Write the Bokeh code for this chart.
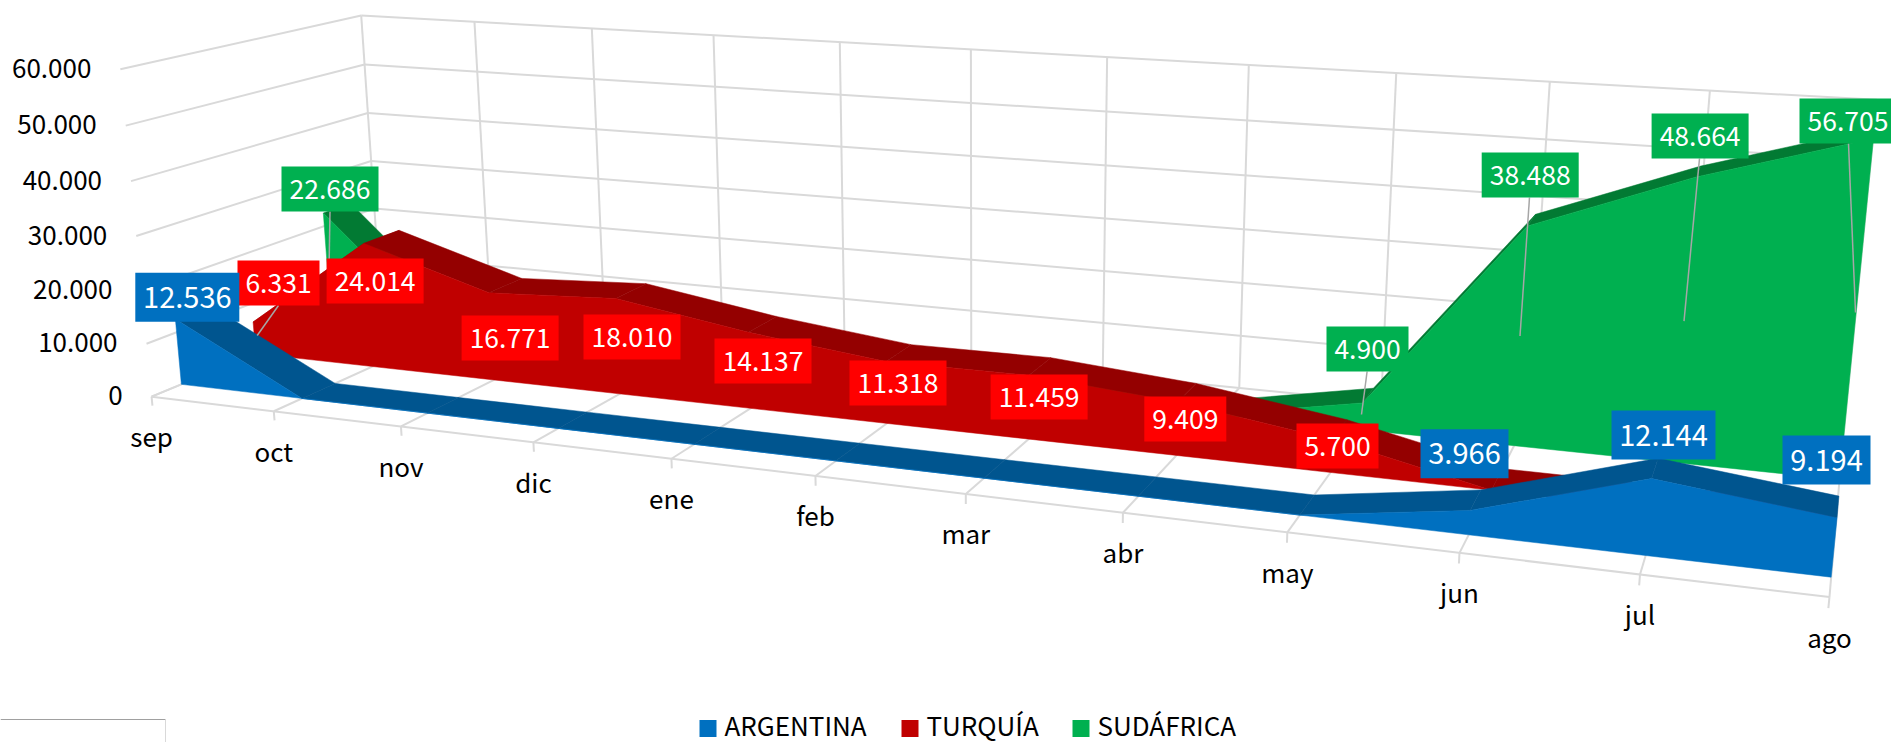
import numpy as np
from bokeh.plotting import figure
from bokeh.embed import file_html
from bokeh.resources import INLINE
from bokeh.core.properties import value

# ---------- data ----------
months = ["sep", "oct", "nov", "dic", "ene", "feb", "mar", "abr", "may", "jun", "jul", "ago"]
argentina = [12536, 0, 0, 0, 0, 0, 0, 0, 0, 3966, 12144, 9194]
turquia = [6331, 24014, 16771, 18010, 14137, 11318, 11459, 9409, 5700, 0, 0, 0]
sudafrica = [22686, 0, 0, 0, 0, 0, 0, 0, 4900, 38488, 48664, 56705]
y_ticks = [0, 10000, 20000, 30000, 40000, 50000, 60000]
legend_names = ["ARGENTINA", "TURQUÍA", "SUDÁFRICA"]

# ---------- styles / layout ----------
FONT = "Noto Sans CJK JP"
GRID = "#D9D9D9"
BLUE, BLUE_D = "#0070C0", "#00558F"
RED, RED_D = "#C00000", "#940000"
LRED = "#FF0000"
GREEN, GREEN_D = "#00B050", "#027A33"
LEADER = "#A6A6A6"

# camera calibration: (month index, depth 0..1, value) -> reference pixel
calib = [
    (0, 0, 0, 152, 395), (11, 0, 0, 1829.4, 597.3), (0, 0, 60000, 119.6, 69),
    (0, 1, 60000, 360.7, 14), (0, 1, 0, 380, 303), (11, 1, 60000, 1876, 100.5),
    (11, 1, 0, 1842, 446), (5, 0, 0, 813.8, 476), (5, 1, 60000, 971, 49),
    (5, 1, 0, 970.6, 360.8),
]


def fit_camera(points):
    rows = []
    for m, d, v, px, py in points:
        w = [m / 11, d, v / 60000, 1]
        rows.append(w + [0, 0, 0, 0] + [-px * c for c in w])
        rows.append([0, 0, 0, 0] + w + [-py * c for c in w])
    return np.linalg.svd(np.array(rows, float))[2][-1].reshape(3, 4)


CAM = fit_camera(calib)


def project(m, d, v):
    h = CAM @ np.array([m / 11, d, v / 60000, 1.0])
    return float(h[0] / h[2]), float(h[1] / h[2])


p = figure(width=1891, height=742, x_range=(0, 1891), y_range=(742, 0),
           output_backend="svg", toolbar_location=None,
           x_axis_location=None, y_axis_location=None, min_border=0)
p.grid.visible = False
p.outline_line_color = None
p.background_fill_color = "white"
p.border_fill_color = "white"


def seg(a, b, color=GRID, width=2):
    p.line([a[0], b[0]], [a[1], b[1]], line_color=color, line_width=width)


n = len(months)
# walls and floor grid
for v in y_ticks:
    seg(project(0, 0, v), project(0, 1, v))
    seg(project(0, 1, v), project(n - 1, 1, v))
top = y_ticks[-1]
for m in range(n):
    seg(project(m, 1, 0), project(m, 1, top))
    seg(project(m, 0, 0), project(m, 1, 0))
    seg(project(m, 0, 0), project(m, 0, -1700))
seg(project(0, 0, 0), project(n - 1, 0, 0))

# axis texts
for v in y_ticks:
    x, y = project(0, 0, v)
    p.text([x - 29], [y - 1], text=[f"{v:,}".replace(",", ".")], text_align="right",
           text_baseline="middle", text_font=value(FONT), text_font_size="26px", text_color="#000000")
for m, name in enumerate(months):
    x, y = project(m, 0, 0)
    p.text([x], [y + 39], text=[name], text_align="center", text_baseline="middle",
           text_font=value(FONT), text_font_size="26px", text_color="#000000")


def draw_area(vals, d0, d1, face, band):
    for i in range(n - 1):
        q = [project(i, d0, vals[i]), project(i + 1, d0, vals[i + 1]),
             project(i + 1, d1, vals[i + 1]), project(i, d1, vals[i])]
        p.patch([c[0] for c in q], [c[1] for c in q], fill_color=band, line_color=band, line_width=0.5)
    outline = [project(i, d0, vals[i]) for i in range(n)] + [project(n - 1, d0, 0), project(0, d0, 0)]
    p.patch([c[0] for c in outline], [c[1] for c in outline], fill_color=face, line_color=face, line_width=0.5)


draw_area(sudafrica, 0.76, 0.89, GREEN, GREEN_D)
draw_area(turquia, 0.42, 0.58, RED, RED_D)
draw_area(argentina, 0.115, 0.255, BLUE, BLUE_D)

# leader lines of hand-placed labels (pixel layout)
leaders = [
    ((329.5, 211), (328.6, 265)), ((278, 305), (256.7, 335)), ((1366.6, 371), (1361, 414)),
    ((1529, 197), (1519.5, 335.5)), ((1699, 158), (1683.5, 320.6)), ((1848, 143), (1855, 312)),
]
for a, b in leaders:
    seg(a, b, LEADER, 1.5)

# data labels: month index -> label-box centre in the page layout
pos_arg = {0: (186.8, 296.7), 9: (1464, 453.3), 10: (1663, 434.6), 11: (1826, 459.5)}
pos_tur = {0: (278, 282.5), 1: (374.6, 280.5), 2: (509.6, 337.5), 3: (631.5, 336.5), 4: (762.5, 360.5),
           5: (897.5, 382.5), 6: (1038.6, 396.5), 7: (1184.8, 418.5), 8: (1337, 445.5)}
pos_sud = {0: (329.5, 188.5), 8: (1367, 348.5), 9: (1529.7, 174.6), 10: (1699.6, 135.5), 11: (1847.5, 120.4)}


def draw_labels(vals, pos, color, font_px, h, w5, w4):
    for m, (cx, cy) in pos.items():
        txt = f"{vals[m]:,}".replace(",", ".")
        w = w5 if vals[m] >= 10000 else w4
        p.quad(left=[cx - w / 2], right=[cx + w / 2], top=[cy - h / 2], bottom=[cy + h / 2],
               fill_color=color, line_color=None)
        p.text([cx], [cy], text=[txt], text_align="center", text_baseline="middle",
               text_font=value(FONT), text_font_size=f"{font_px}px", text_color="#FFFFFF")


draw_labels(sudafrica, pos_sud, GREEN, 26.5, 45, 97, 82)
draw_labels(turquia, pos_tur, LRED, 26.5, 45, 97, 82)
draw_labels(argentina, pos_arg, BLUE, 29, 49, 104, 88)

# legend
leg_x = [699, 901, 1072]
leg_colors = [BLUE, RED, GREEN]
leg_y = 728
leg_text_y = 724
for x, c, name in zip(leg_x, leg_colors, legend_names):
    p.quad(left=[x], right=[x + 17], top=[leg_y - 8.5], bottom=[leg_y + 8.5], fill_color=c, line_color=None)
    p.text([x + 25], [leg_text_y], text=[name], text_align="left", text_baseline="middle",
           text_font=value(FONT), text_font_size="26px", text_color="#000000")

# stray box at the lower-left corner
seg((0, 719), (165, 719), "#A0A0A0", 1)
seg((165, 719), (165, 742), "#D9D9D9", 1)

open("out.html", "w").write(file_html(p, INLINE))
